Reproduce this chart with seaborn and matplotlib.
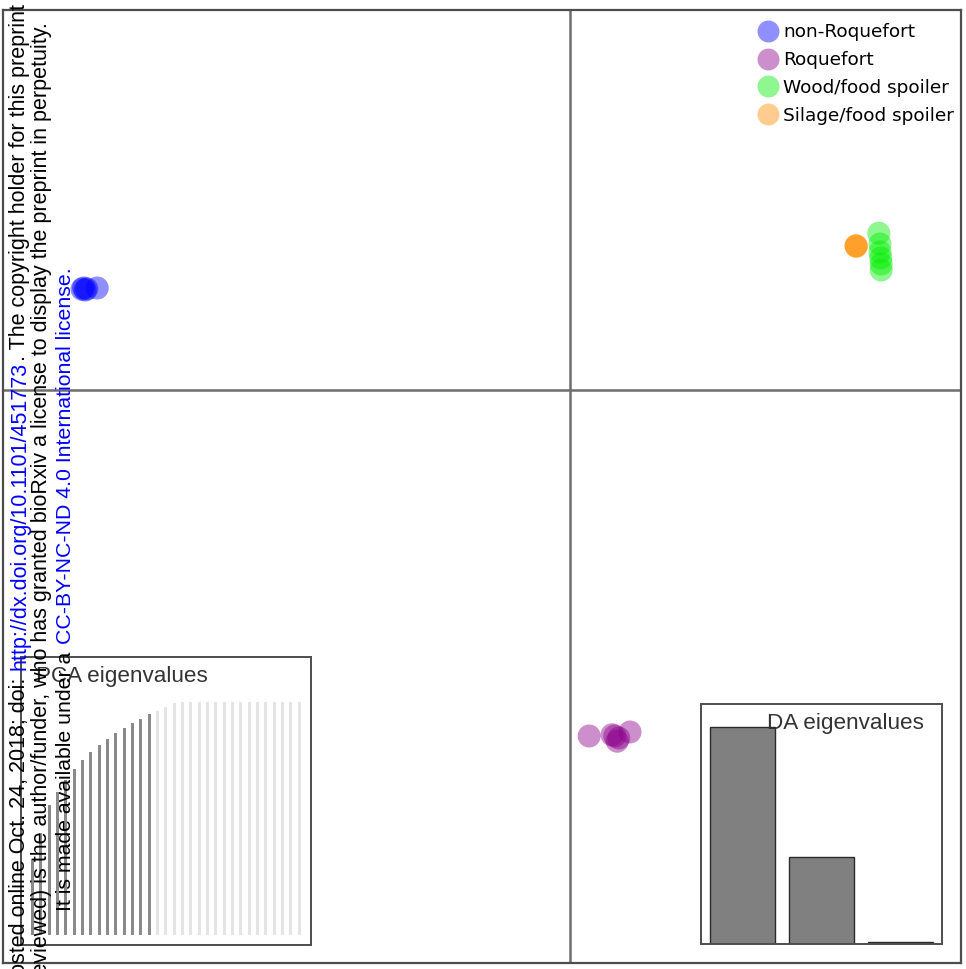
import numpy as np
import pandas as pd
import matplotlib
matplotlib.use("Agg")
import matplotlib.pyplot as plt
from matplotlib.lines import Line2D
import seaborn as sns

# ---- data -----------------------------------------------------------------
groups = ["non-Roquefort", "Roquefort", "Wood/food spoiler", "Silage/food spoiler"]
group_colors = ["#0000FF", "#8B008B", "#00EE00", "#FF8C00"]

# discriminant-function scores (LD1, LD2) of each strain
nonroq_ld1 = [-12.20, -12.16, -12.12, -12.08, -11.82]
nonroq_ld2 = [2.52, 2.55, 2.50, 2.53, 2.55]
roq_ld1 = [0.48, 1.05, 1.12, 1.18, 1.22, 1.50]
roq_ld2 = [-8.65, -8.62, -8.65, -8.78, -8.70, -8.55]
wood_ld1 = [7.72, 7.75, 7.75, 7.77, 7.78, 7.78]
wood_ld2 = [3.92, 3.65, 3.45, 3.30, 3.15, 3.00]
silage_ld1 = [7.15, 7.15, 7.16]
silage_ld2 = [3.60, 3.61, 3.59]

# cumulative variance (%) of the PCA axes; the first 15 were retained
pca_cumvar = [32.2, 43.8, 55.8, 61.4, 66.5, 71.2, 75.1, 78.5, 81.5, 84.1, 86.7,
              88.8, 91.0, 92.7, 94.8, 96.1, 97.9, 99.6, 100, 100, 100, 100, 100,
              100, 100, 100, 100, 100, 100, 100, 100, 100, 100]
n_pca_retained = 15

# eigenvalues of the discriminant functions
da_eigenvalues = [217.0, 87.0, 2.0]

# ---- table ----------------------------------------------------------------
scores = pd.concat([
    pd.DataFrame({"LD1": nonroq_ld1, "LD2": nonroq_ld2, "group": groups[0]}),
    pd.DataFrame({"LD1": roq_ld1, "LD2": roq_ld2, "group": groups[1]}),
    pd.DataFrame({"LD1": wood_ld1, "LD2": wood_ld2, "group": groups[2]}),
    pd.DataFrame({"LD1": silage_ld1, "LD2": silage_ld2, "group": groups[3]}),
], ignore_index=True)

pca_df = pd.DataFrame({
    "axis": np.arange(1, len(pca_cumvar) + 1),
    "cumvar": pca_cumvar,
    "kept": ["retained" if i < n_pca_retained else "dropped"
             for i in range(len(pca_cumvar))],
})
da_df = pd.DataFrame({"fn": [1, 2, 3], "eig": da_eigenvalues})

# ---- figure ---------------------------------------------------------------
sns.set_style("white")
W, H = 966, 969
fig = plt.figure(figsize=(W / 100, H / 100), dpi=100)
fig.patch.set_facecolor("white")


def px_box(x0, y0, x1, y1):
    """Axes rectangle from pixel corners (origin top-left)."""
    return [x0 / W, 1 - y1 / H, (x1 - x0) / W, (y1 - y0) / H]


frame_col = "#4d4d4d"
alpha = 0.44

# main scatter of discriminant scores
ax = fig.add_axes(px_box(3, 10, 961, 963))
ax.axhline(0, color="#6e6e6e", lw=1.8, zorder=0)
ax.axvline(0, color="#6e6e6e", lw=1.8, zorder=0)
sns.scatterplot(data=scores, x="LD1", y="LD2", hue="group", hue_order=groups,
                palette=group_colors, s=275, alpha=alpha, edgecolor="none",
                linewidth=0, legend=False, ax=ax, zorder=2)
ax.set_xlim(-14.175, 9.775)
ax.set_ylim(-14.325, 9.5)
ax.set(xlabel="", ylabel="", xticks=[], yticks=[])
for sp in ax.spines.values():
    sp.set_color(frame_col)
    sp.set_linewidth(1.6)

handles = [Line2D([], [], marker="o", linestyle="none", markersize=15.8,
                  markerfacecolor=c, markeredgecolor="none", alpha=alpha)
           for c in group_colors]
leg = ax.legend(handles, groups, loc="upper left",
                bbox_to_anchor=(759.5 / W, 1 - 23 / H), bbox_transform=fig.transFigure,
                frameon=False, prop={"family": "DejaVu Sans", "size": 13.3},
                handlelength=0.95, handletextpad=0.33, labelspacing=0.54,
                borderpad=0, borderaxespad=0)
for txt in leg.get_texts():
    txt.set_color("black")

# inset: cumulative PCA variance
axp = fig.add_axes(px_box(21, 657, 311, 945))
axp.set_facecolor("white")
sns.barplot(data=pca_df, x="axis", y="cumvar", hue="kept",
            palette={"retained": "#8a8a8a", "dropped": "#e4e4e4"},
            dodge=False, width=0.36, linewidth=0, legend=False, ax=axp)
axp.set_xlim(-1.40, 33.41)
axp.set_ylim(-10 / 233 * 100, 278 / 233 * 100)
axp.set(xlabel="", ylabel="", xticks=[], yticks=[])
for sp in axp.spines.values():
    sp.set_color(frame_col)
    sp.set_linewidth(1.4)
axp.text(0.052, 0.934, "PCA eigenvalues", transform=axp.transAxes,
         ha="left", va="center", fontsize=16.2, color="#333333",
         family="Liberation Sans")

# inset: DA eigenvalues
axd = fig.add_axes(px_box(701, 704, 942, 944))
axd.set_facecolor("white")
sns.barplot(data=da_df, x="fn", y="eig", color="#808080", saturation=1,
            edgecolor="#2b2b2b", linewidth=1.0, width=0.833, ax=axd)
axd.set_xlim(-0.525, 2.525)
axd.set_ylim(0, da_eigenvalues[0] * 240 / 217)
axd.set(xlabel="", ylabel="", xticks=[], yticks=[])
for sp in axd.spines.values():
    sp.set_color(frame_col)
    sp.set_linewidth(1.4)
axd.text(0.925, 0.917, "DA eigenvalues", transform=axd.transAxes,
         ha="right", va="center", fontsize=16.2, color="#333333",
         family="Liberation Sans")

# ---- vertical preprint notice --------------------------------------------
wm_font = "Liberation Sans"
blue = "#0000FF"
renderer = fig.canvas.get_renderer()


def vtext(x_px, y_px, s, color, size, ha="left"):
    t = fig.text(x_px / W, 1 - y_px / H, s, rotation=90, rotation_mode="anchor",
                 ha=ha, va="baseline", fontsize=size, color=color,
                 family=wm_font, zorder=10)
    return t


def top_px(t):
    bb = t.get_window_extent(renderer)
    return H - bb.y1


def space_px(size):
    return 0.278 * size * 100 / 72


# first line
s1 = 15.5
t_link = vtext(25, 670, "http://dx.doi.org/10.1101/451773", blue, s1)
vtext(25, 670 + space_px(s1) + 1.5,
      "bioRxiv preprint first posted online Oct. 24, 2018; doi:", "black", s1,
      ha="right")
vtext(25, top_px(t_link) - 1,
      ". The copyright holder for this preprint (which was not", "black", s1)

# second line
vtext(47.5, 22,
      "peer-reviewed) is the author/funder, who has granted bioRxiv a license "
      "to display the preprint in perpetuity.", "black", s1, ha="right")

# third line
s3 = 15.3
t_made = vtext(71, 911, "It is made available under a", "black", s3)
vtext(71, top_px(t_made) - space_px(s3) - 1.5,
      "CC-BY-NC-ND 4.0 International license.", blue, s3)

fig.savefig("out.png", dpi=100, facecolor="white")
